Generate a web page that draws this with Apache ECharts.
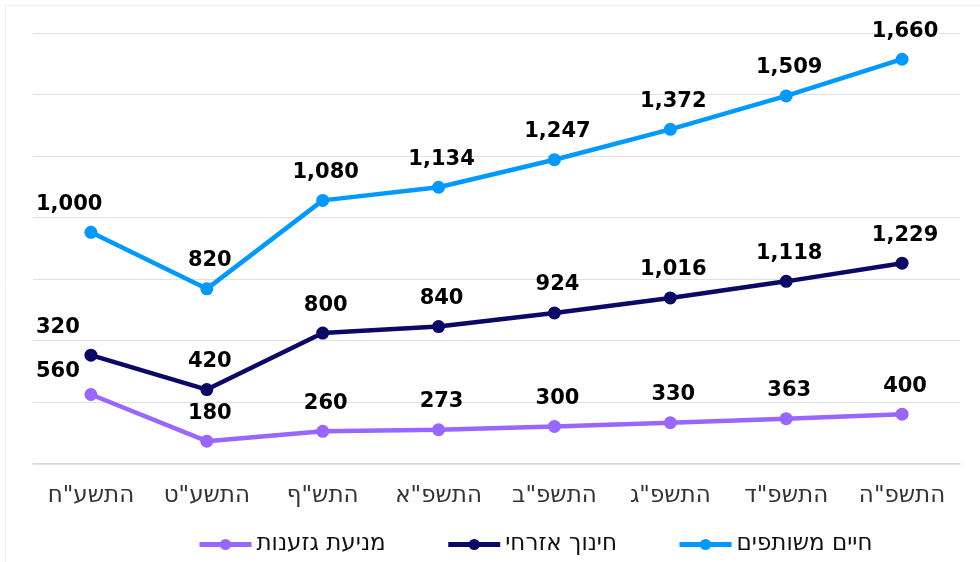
<!DOCTYPE html>
<html><head><meta charset="utf-8">
<script src="https://cdn.jsdelivr.net/npm/echarts@6/dist/echarts.min.js"></script>
<style>html,body{margin:0;padding:0;background:#fff}#c{width:980px;height:562px}</style>
</head><body><div id="c"></div>
<script>
const categories = ['התשע"ח','התשע"ט','התש"ף','התשפ"א','התשפ"ב','התשפ"ג','התשפ"ד','התשפ"ה'];
const racismPrevention = [560,180,260,273,300,330,363,400];
const civicEducation = [320,420,800,840,924,1016,1118,1229];
const sharedLife = [1000,820,1080,1134,1247,1372,1509,1660];
const seriesNames = ['מניעת גזענות','חינוך אזרחי','חיים משותפים'];
const colors = ['#9966FF','#0A0A66','#0099FF'];

const chart = echarts.init(document.getElementById('c'));
const fmt = p => Number(p.value).toLocaleString('en-US');
function mk(name, vals, color, firstOffsetY){
  return {
    name, type:'line', stack:'total', data: vals.map((v,i)=> i===0 ? {value:v, label:{align:'left', offset:[-55, firstOffsetY]}} : v),
    symbol:'circle', symbolSize:13, lineStyle:{width:4.5,color}, itemStyle:{color},
    label:{show:true, position:'top', distance:11, offset:[3,0], formatter:fmt,
      fontFamily:'DejaVu Sans', fontWeight:'bold', fontSize:21, color:'#000'}
  };
}
chart.setOption({
  animation:false,
  backgroundColor:'#fff',
  graphic:[
    {type:'line', shape:{x1:5.5,y1:5,x2:5.5,y2:562}, style:{stroke:'#f0f0f0',lineWidth:1}},
    {type:'line', shape:{x1:5,y1:5.5,x2:980,y2:5.5}, style:{stroke:'#f0f0f0',lineWidth:1}}
  ],
  grid:{left:33,right:20,top:33.3,bottom:98.7,containLabel:false},
  xAxis:{type:'category', data:categories, boundaryGap:true,
    axisLine:{show:true,lineStyle:{color:'#d9d9d9',width:1.5}}, axisTick:{show:false},
    axisLabel:{fontFamily:'DejaVu Sans',fontSize:23,color:'#333',margin:21}},
  yAxis:{type:'value', min:0, max:3500, interval:500, axisLabel:{show:false},
    axisLine:{show:false}, axisTick:{show:false},
    splitLine:{lineStyle:{color:'#e0e0e0',width:1.2}}},
  legend:{bottom:1, left:192, itemWidth:52, itemHeight:14, itemGap:60,
    data:seriesNames, lineStyle:{width:5},
    textStyle:{fontFamily:'DejaVu Sans',fontSize:23,color:'#111'}},
  series:[
    mk(seriesNames[0], racismPrevention, colors[0], 5),
    mk(seriesNames[1], civicEducation, colors[1], 0),
    mk(seriesNames[2], sharedLife, colors[2], 0)
  ]
});
</script></body></html>
